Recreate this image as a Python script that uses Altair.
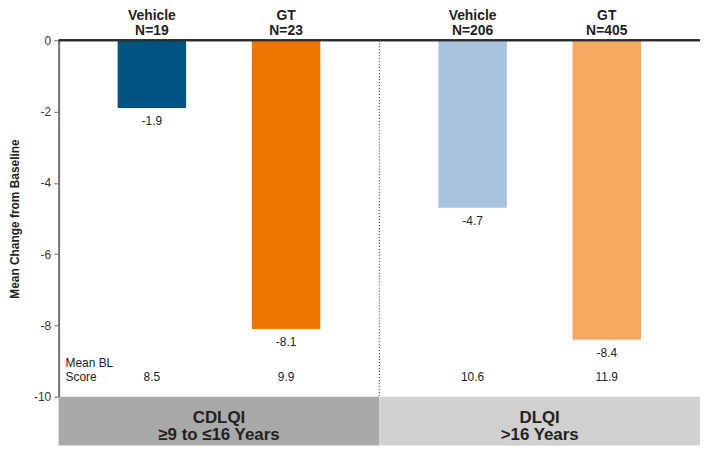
import altair as alt
import pandas as pd

# ---- data ----
groups = ["CDLQI", "CDLQI", "DLQI", "DLQI"]
treatments = ["Vehicle", "GT", "Vehicle", "GT"]
n_labels = ["N=19", "N=23", "N=206", "N=405"]
changes = [-1.9, -8.1, -4.7, -8.4]
bl_scores = ["8.5", "9.9", "10.6", "11.9"]
group_names = ["CDLQI", "DLQI"]
group_lines = [["CDLQI", "≥9 to ≤16 Years"], ["DLQI", ">16 Years"]]
y_ticks = [0, -2, -4, -6, -8, -10]

# ---- styles ----
bar_keys = ["CDLQI Vehicle", "CDLQI GT", "DLQI Vehicle", "DLQI GT"]
bar_colors = ["#005383", "#ee7600", "#a9c3df", "#f5aa60"]
box_colors = ["#a9a9a9", "#d0d0d0"]
FONT = "Liberation Sans"
W, H = 646, 359
BOX_H = 49

df = pd.DataFrame({
    "group": groups,
    "treatment": treatments,
    "n": n_labels,
    "change": changes,
    "bl": bl_scores,
})
df["key"] = df["group"] + " " + df["treatment"]
df["label"] = df["change"].map(lambda v: f"{v:.1f}")
df["head"] = [[t, n] for t, n in zip(treatments, n_labels)]

gdf = pd.DataFrame({"group": group_names, "lines": group_lines})

xscale = alt.Scale(domain=group_names, paddingInner=0, paddingOuter=0)
xoff_scale = alt.Scale(domain=["Vehicle", "GT"], paddingInner=0.49, paddingOuter=0.44)
yscale = alt.Scale(domain=[-10, 0], nice=False, zero=False)

X = alt.X("group:N", scale=xscale, axis=None)
XO = alt.XOffset("treatment:N", scale=xoff_scale)

base = alt.Chart(df)

bars = base.mark_bar(size=69).encode(
    x=X,
    xOffset=XO,
    y=alt.Y(
        "change:Q",
        scale=yscale,
        axis=alt.Axis(
            values=y_ticks,
            labelExpr="'' + datum.value",
            title="Mean Change from Baseline",
            grid=False,
            tickSize=5,
            tickColor="#707070",
            tickWidth=1,
            domainColor="#707070",
            domainWidth=2,
            labelFont=FONT,
            labelFontSize=12,
            labelColor="#333333",
            labelPadding=3,
            titleFont=FONT,
            titleFontSize=12,
            titleFontWeight="bold",
            titleColor="#222222",
            titlePadding=12,
        ),
    ),
    y2=alt.datum(0),
    color=alt.Color("key:N", scale=alt.Scale(domain=bar_keys, range=bar_colors), legend=None),
)

value_labels = base.mark_text(
    baseline="top", dy=8, font=FONT, fontSize=12, color="#222222"
).encode(x=X, xOffset=XO, y=alt.Y("change:Q", scale=yscale), text="label:N")

heads = base.mark_text(
    baseline="alphabetic", font=FONT, fontSize=14, fontWeight="bold", color="#222222", lineHeight=15
).encode(x=X, xOffset=XO, y=alt.value(-20), text="head")

bl_vals = base.mark_text(
    baseline="middle", font=FONT, fontSize=12, color="#222222"
).encode(x=X, xOffset=XO, y=alt.value(H - 20), text="bl:N")

bl_title = alt.Chart(pd.DataFrame({"t": [["Mean BL", "Score"]]})).mark_text(
    align="left", baseline="top", font=FONT, fontSize=12, color="#222222", lineHeight=14
).encode(x=alt.value(7), y=alt.value(H - 39), text="t")

boxes = alt.Chart(gdf).mark_rect().encode(
    x=X,
    y=alt.value(H),
    y2=alt.value(H + BOX_H),
    fill=alt.Fill("group:N", scale=alt.Scale(domain=group_names, range=box_colors), legend=None),
)

box_text = alt.Chart(gdf).mark_text(
    baseline="top", font=FONT, fontSize=17, fontWeight="bold", color="#222222", lineHeight=18
).encode(x=X, y=alt.value(H + 13), text="lines")

divider = alt.Chart(gdf[gdf["group"] == "DLQI"]).mark_rule(
    color="#222222", strokeDash=[1, 2], strokeWidth=1
).encode(x=alt.X("group:N", scale=xscale, bandPosition=0, axis=None))

zero_line = alt.Chart(gdf).mark_rule(color="#2a2a2a", strokeWidth=2).encode(
    y=alt.datum(0, scale=yscale)
)

chart = alt.layer(
    boxes, box_text, divider, bars, zero_line, value_labels, heads, bl_vals, bl_title
).resolve_scale(color="independent", fill="independent").properties(
    width=W, height=H, padding=0
).configure_view(stroke=None)

chart.save("out.html", embed_options={"renderer": "svg", "actions": False})
